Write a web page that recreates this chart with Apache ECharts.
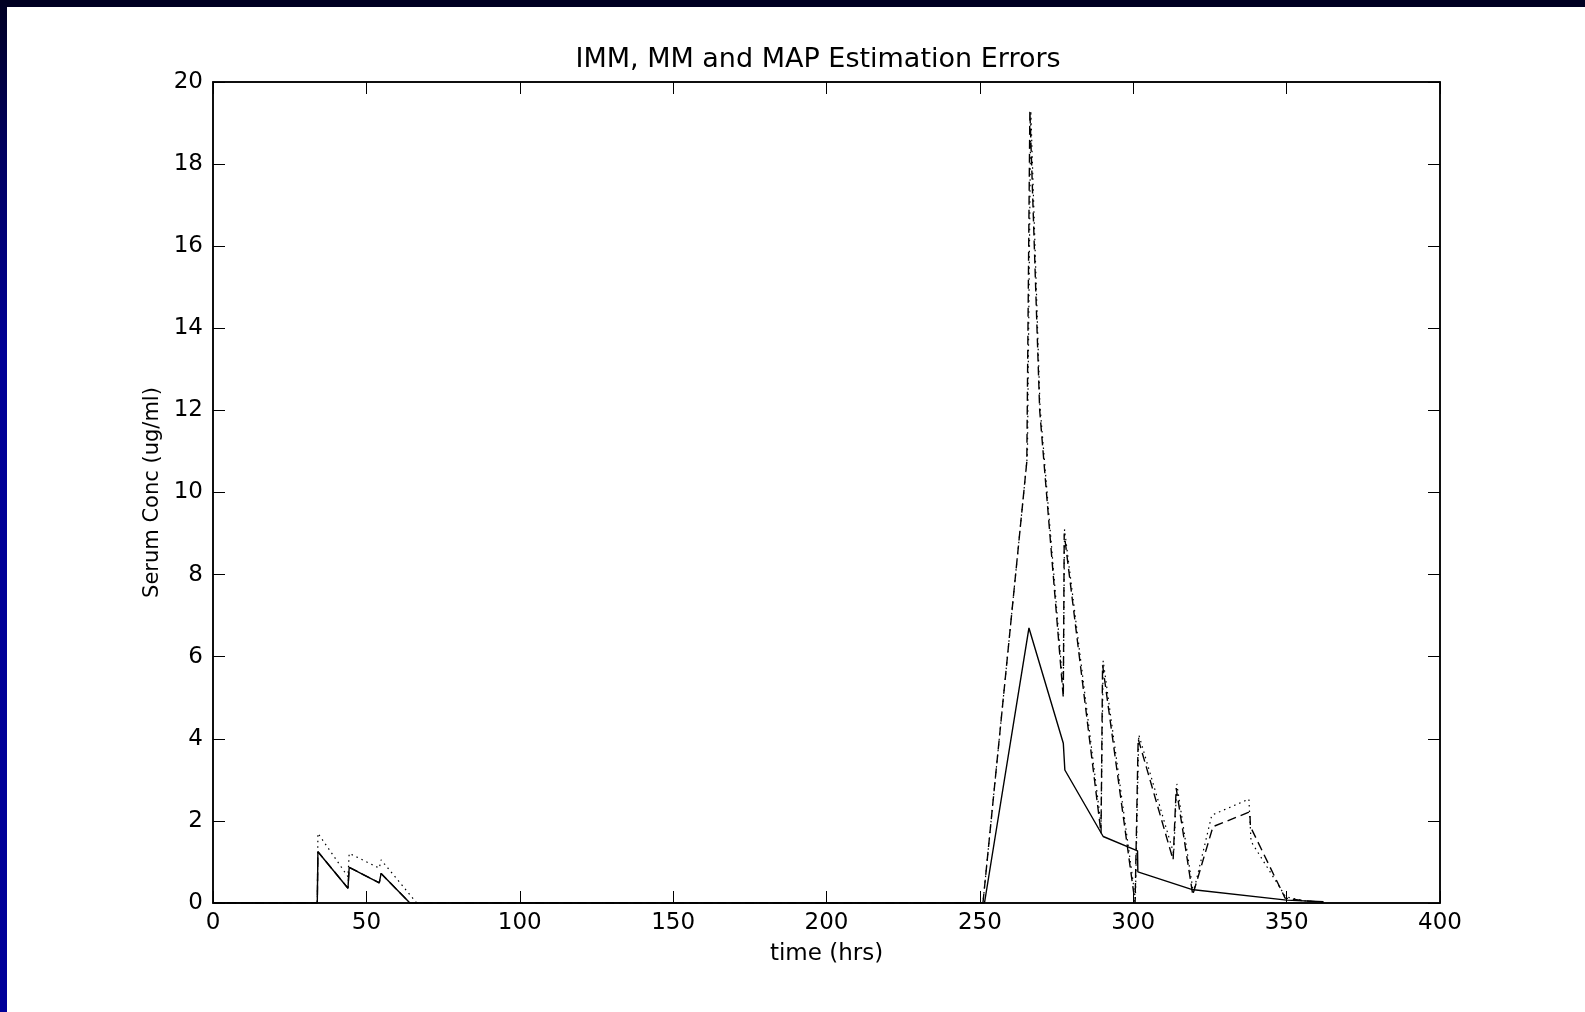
<!DOCTYPE html>
<html>
<head>
<meta charset="utf-8">
<script src="https://cdn.jsdelivr.net/npm/echarts@6/dist/echarts.min.js"></script>
<style>
html,body{margin:0;padding:0;background:#fff;}
#wrap{position:relative;width:1585px;height:1012px;background:#fff;overflow:hidden;}
#chart{position:absolute;left:0;top:0;width:1585px;height:1012px;}
#topbar{position:absolute;left:0;top:0;width:1585px;height:7px;background:#000022;z-index:5;}
#leftbar{position:absolute;left:0;top:0;width:7px;height:1012px;background:linear-gradient(to bottom,#000022 0%,#000060 15%,#000096 35%,#000099 100%);z-index:5;}
</style>
</head>
<body>
<div id="wrap">
<div id="chart"></div>
<div id="topbar"></div>
<div id="leftbar"></div>
</div>
<script>
// time (hrs) and serum concentration error (ug/ml) for each estimator
const solidTime  = [0, 34, 34.2, 44, 44.4, 54.2, 54.8, 64.2, 251.5, 266, 277.2, 277.7, 290.2, 301.4, 301.5, 319, 350, 362];
const solidValue = [0, 0, 1.25, 0.36, 0.87, 0.49, 0.72, 0, 0, 6.7, 3.89, 3.24, 1.62, 1.27, 0.76, 0.33, 0.07, 0.03];

const dashedTime  = [0, 34, 34.2, 44, 44.4, 54.2, 54.8, 64.2, 251, 265.3, 266.3, 269.5, 277.2, 277.5, 289.5, 290, 300.6, 301.6, 313, 314, 319.4, 326, 338, 338.2, 349.5, 356, 362];
const dashedValue = [0, 0, 1.25, 0.36, 0.87, 0.49, 0.72, 0, 0, 10.75, 19.3, 12.0, 5.0, 9.0, 1.7, 5.8, 0.0, 4.0, 1.05, 2.8, 0.2, 1.86, 2.22, 1.86, 0.12, 0.05, 0.02];

const dottedTime  = [0, 34, 34.2, 44, 44.4, 54.2, 54.8, 66.4, 251, 265.5, 266.6, 269.6, 277.2, 277.6, 289.5, 290.2, 300.7, 301.8, 313.2, 314.2, 319.6, 325.6, 337.7, 338.4, 349.7, 356, 362];
const dottedValue = [0, 0, 1.7, 0.64, 1.21, 0.85, 1.05, 0, 0, 10.9, 19.3, 12.1, 5.2, 9.1, 1.9, 5.9, 0.1, 4.1, 1.2, 2.9, 0.25, 2.14, 2.53, 1.5, 0.15, 0.05, 0.02];

const xTicks = [0, 50, 100, 150, 200, 250, 300, 350, 400];
const yTicks = [0, 2, 4, 6, 8, 10, 12, 14, 16, 18, 20];

const titleText = 'IMM, MM and MAP Estimation Errors';
const xName = 'time (hrs)';
const yName = 'Serum Conc (ug/ml)';

function pairs(t, v) { return t.map((x, i) => [x, v[i]]); }

const FONT = '"DejaVu Sans", sans-serif';
const chart = echarts.init(document.getElementById('chart'), null, {renderer: 'canvas'});

const xMin = xTicks[0], xMax = xTicks[xTicks.length - 1], xInt = xTicks[1] - xTicks[0];
const yMin = yTicks[0], yMax = yTicks[yTicks.length - 1], yInt = yTicks[1] - yTicks[0];

const tickStyle = {show: true, inside: true, length: 12, lineStyle: {color: '#000', width: 1}};

chart.setOption({
  backgroundColor: 'transparent',
  animation: false,
  title: {
    text: titleText,
    left: 813, top: 41, textAlign: 'center',
    textStyle: {fontFamily: FONT, fontSize: 27, fontWeight: 'normal', color: '#000'}
  },
  grid: {left: 213, right: 145, top: 82, bottom: 109, containLabel: false, outerBoundsMode: 'none',
         show: true, borderColor: '#000', borderWidth: 1.5, backgroundColor: 'transparent'},
  xAxis: [
    {type: 'value', min: xMin, max: xMax, interval: xInt, position: 'bottom',
     name: xName, nameLocation: 'middle', nameGap: 40,
     nameTextStyle: {fontFamily: FONT, fontSize: 23, color: '#000'},
     axisLine: {show: true, onZero: false, lineStyle: {color: '#000', width: 1.5}},
     axisTick: tickStyle, splitLine: {show: false},
     axisLabel: {fontFamily: FONT, fontSize: 23, color: '#000', margin: 9}},
    {type: 'value', min: xMin, max: xMax, interval: xInt, position: 'top',
     axisLine: {show: true, onZero: false, lineStyle: {color: '#000', width: 1.5}},
     axisTick: tickStyle, splitLine: {show: false}, axisLabel: {show: false}}
  ],
  yAxis: [
    {type: 'value', min: yMin, max: yMax, interval: yInt, position: 'left',
     name: yName, nameLocation: 'middle', nameGap: 44, nameRotate: 90,
     nameTextStyle: {fontFamily: FONT, fontSize: 21, color: '#000'},
     axisLine: {show: true, onZero: false, lineStyle: {color: '#000', width: 1.5}},
     axisTick: tickStyle, splitLine: {show: false},
     axisLabel: {fontFamily: FONT, fontSize: 23, color: '#000', margin: 10}},
    {type: 'value', min: yMin, max: yMax, interval: yInt, position: 'right',
     axisLine: {show: true, onZero: false, lineStyle: {color: '#000', width: 1.5}},
     axisTick: tickStyle, splitLine: {show: false}, axisLabel: {show: false}}
  ],
  series: [
    {name: 'IMM', type: 'line', data: pairs(solidTime, solidValue), showSymbol: false, symbol: 'none',
     lineStyle: {color: '#000', width: 1.4, type: 'solid'}, z: 3},
    {name: 'MM', type: 'line', data: pairs(dashedTime, dashedValue), showSymbol: false, symbol: 'none',
     lineStyle: {color: '#000', width: 1.4, type: [9, 5]}, z: 3},
    {name: 'MAP', type: 'line', data: pairs(dottedTime, dottedValue), showSymbol: false, symbol: 'none',
     lineStyle: {color: '#000', width: 1.2, type: [1.5, 4]}, z: 3}
  ]
});
</script>
</body>
</html>
